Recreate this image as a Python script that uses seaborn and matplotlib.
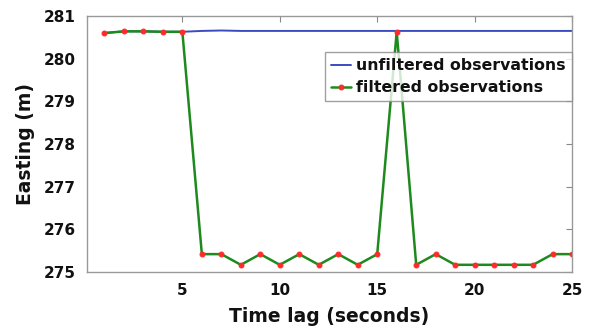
import numpy as np
import pandas as pd
import seaborn as sns
import matplotlib
matplotlib.use("Agg")
import matplotlib.pyplot as plt

time_lag = list(range(1, 26))
unfiltered = [280.60, 280.64, 280.64, 280.63, 280.63, 280.65, 280.66, 280.65, 280.65, 280.65,
              280.65, 280.65, 280.65, 280.65, 280.65, 280.65, 280.65, 280.65, 280.65, 280.65,
              280.65, 280.65, 280.65, 280.65, 280.65]
filtered = [280.60, 280.64, 280.64, 280.63, 280.63, 275.42, 275.42, 275.17, 275.42, 275.17,
            275.42, 275.17, 275.42, 275.17, 275.42, 280.63, 275.17, 275.42, 275.17, 275.17,
            275.17, 275.17, 275.17, 275.42, 275.42]
x_ticks = [5, 10, 15, 20, 25]
y_ticks = [275, 276, 277, 278, 279, 280, 281]

sns.set_style("white")
plt.rcParams['font.family'] = ['DejaVu Sans']
plt.rcParams['font.weight'] = 'bold'

df = pd.DataFrame({"t": time_lag, "unf": unfiltered, "fil": filtered})

fig = plt.figure(figsize=(5.91, 3.33), dpi=100)
ax = fig.add_axes([0.147, 0.183, 0.821, 0.769])

sns.lineplot(data=df, x="t", y="unf", ax=ax, color="#3b4cc0", linewidth=1.4,
             label="unfiltered observations")
sns.lineplot(data=df, x="t", y="fil", ax=ax, color="#1e8a1e", linewidth=1.8,
             marker="o", markersize=3.5, markerfacecolor="#ff2a2a", markeredgecolor="#ff2a2a",
             label="filtered observations")

ax.set_xlim(0.1, 25)
ax.set_ylim(275, 281)
ax.set_xticks(x_ticks)
ax.set_yticks(y_ticks)
ax.tick_params(direction="in", top=True, right=True, length=4, labelsize=11, color="#888888",
               labelcolor="#111111")
ax.tick_params(axis="x", pad=8)
ax.tick_params(axis="y", pad=8)
for lab in ax.get_xticklabels() + ax.get_yticklabels():
    lab.set_fontweight("bold")
for s in ax.spines.values():
    s.set_color("#999999")
    s.set_linewidth(1.0)

ax.set_xlabel("Time lag (seconds)", fontsize=13.5, fontweight="bold", color="#111111", labelpad=6)
ax.set_ylabel("Easting (m)", fontsize=13.5, fontweight="bold", color="#111111", labelpad=6)

leg = ax.legend(loc="upper right", bbox_to_anchor=(1.0, 0.86), borderaxespad=0,
                fancybox=False, frameon=True, handlelength=1.3, handletextpad=0.3,
                labelspacing=0.45, borderpad=0.4, prop={"size": 11.3, "weight": "bold"})
leg.get_frame().set_edgecolor("#888888")
leg.get_frame().set_linewidth(1.0)
for t in leg.get_texts():
    t.set_color("#111111")

fig.savefig("out.png", dpi=100)
